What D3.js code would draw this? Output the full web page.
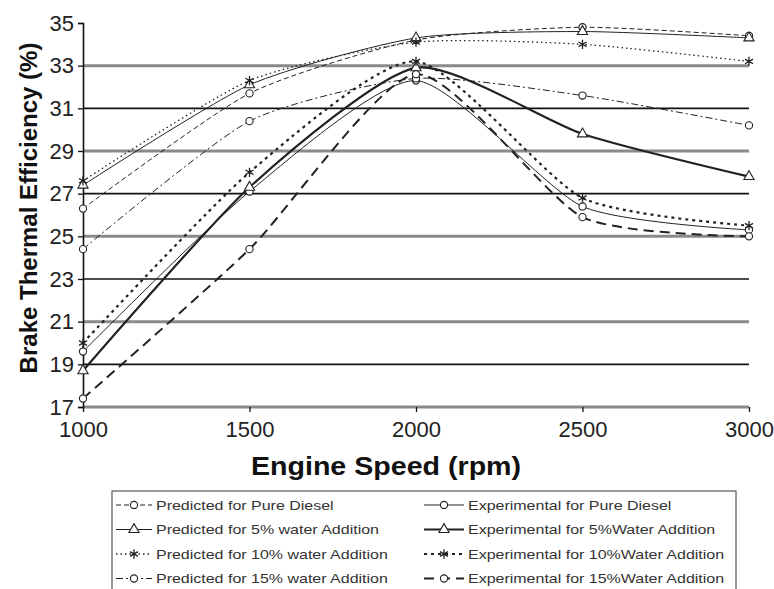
<!DOCTYPE html>
<html lang="en">
<head>
    <meta charset="UTF-8">
    <title>Brake Thermal Efficiency vs Engine Speed</title>
    <script src="https://d3js.org/d3.v7.min.js"></script>
    <style>
        body { margin: 0; background: #fff; }
        svg { display: block; font-family: Arial, "Liberation Sans", sans-serif; }
        .tick-label { font-size: 22px; fill: #222; }
        .axis-title { font-weight: bold; fill: #111; }
        .legend-text { font-size: 13px; fill: #333; }
    </style>
</head>
<body>
<svg id="chart" width="774" height="589"></svg>
<script>
    // Engine speeds (x values)
    const speeds = [1000, 1500, 2000, 2500, 3000];
    const xTicks = [1000, 1500, 2000, 2500, 3000];
    const yTicks = [17, 19, 21, 23, 25, 27, 29, 31, 33, 35];

    // Brake thermal efficiency (%)
    const predDiesel = [26.3, 31.7, 34.2, 34.8, 34.4];
    const pred5      = [27.4, 32.1, 34.3, 34.6, 34.3];
    const pred10     = [27.6, 32.3, 34.1, 34.0, 33.2];
    const pred15     = [24.4, 30.4, 32.4, 31.6, 30.2];
    const expDiesel  = [19.6, 27.1, 32.3, 26.4, 25.3];
    const exp5       = [18.7, 27.3, 32.9, 29.8, 27.8];
    const exp10      = [20.0, 28.0, 33.2, 26.8, 25.5];
    const exp15      = [17.4, 24.4, 32.6, 25.9, 25.0];

    const seriesNames = [
        "Predicted for Pure Diesel", "Experimental for Pure Diesel",
        "Predicted for 5% water Addition", "Experimental for 5%Water Addition",
        "Predicted for 10% water Addition", "Experimental for 10%Water Addition",
        "Predicted for 15% water Addition", "Experimental for 15%Water Addition"
    ];

    // line / marker styles for each series (same order as names)
    const series = [
        { values: predDiesel, dash: "5,3",       width: 1,   marker: "circle" },
        { values: expDiesel,  dash: null,        width: 1,   marker: "circle" },
        { values: pred5,      dash: null,        width: 1,   marker: "triangle" },
        { values: exp5,       dash: null,        width: 2.2, marker: "triangle" },
        { values: pred10,     dash: "1.5,3",     width: 1.3, marker: "star" },
        { values: exp10,      dash: "3,4",       width: 2.2, marker: "star" },
        { values: pred15,     dash: "7,3,2,3",   width: 1,   marker: "circle" },
        { values: exp15,      dash: "10,6",      width: 2,   marker: "circle" }
    ].map((s, i) => ({ ...s, name: seriesNames[i] }));

    const svg = d3.select("#chart");
    const margin = { left: 83, right: 25, top: 23, bottom: 182 };
    const W = 774, H = 589;

    const x = d3.scaleLinear().domain([1000, 3000]).range([margin.left, W - margin.right]);
    const y = d3.scaleLinear().domain([17, 35]).range([H - margin.bottom, margin.top]);

    // horizontal grid lines (alternating grey / black)
    svg.append("g")
        .selectAll("line")
        .data(yTicks.filter(v => v < 35))
        .join("line")
        .attr("x1", x(1000))
        .attr("x2", x(3000))
        .attr("y1", d => y(d))
        .attr("y2", d => y(d))
        .attr("stroke", d => (d - 17) % 4 === 0 ? "#8a8a8a" : "#111")
        .attr("stroke-width", d => (d - 17) % 4 === 0 ? 3 : 1.6);

    // y axis
    const yAxis = svg.append("g")
        .attr("transform", `translate(${x(1000)},0)`)
        .call(d3.axisLeft(y).tickValues(yTicks).tickSize(5).tickPadding(4));
    yAxis.select(".domain").attr("stroke", "#111").attr("stroke-width", 1.6);
    yAxis.selectAll(".tick line").attr("stroke", "#111").attr("stroke-width", 1.3);
    yAxis.selectAll(".tick text").attr("class", "tick-label").attr("font-size", null).attr("font-family", null);

    // x axis
    const xAxis = svg.append("g")
        .attr("transform", `translate(0,${y(17)})`)
        .call(d3.axisBottom(x).tickValues(xTicks).tickFormat(d3.format("d")).tickSize(5).tickPadding(9));
    xAxis.select(".domain").remove();
    xAxis.selectAll(".tick line").attr("stroke", "#111").attr("stroke-width", 1.3);
    xAxis.selectAll(".tick text")
        .attr("class", "tick-label").attr("font-size", null).attr("font-family", null);

    // axis titles
    svg.append("text")
        .attr("class", "axis-title")
        .attr("font-size", 26)
        .attr("transform", "translate(386,475) scale(1.1,1)")
        .attr("text-anchor", "middle")
        .text("Engine Speed (rpm)");

    svg.append("text")
        .attr("class", "axis-title")
        .attr("font-size", 24)
        .attr("transform", "translate(37,208) rotate(-90)")
        .attr("text-anchor", "middle")
        .text("Brake Thermal Efficiency (%)");

    // marker drawing helper
    function drawMarker(g, type, cx, cy) {
        if (type === "circle") {
            g.append("circle").attr("cx", cx).attr("cy", cy).attr("r", 3.6)
                .attr("fill", "#fff").attr("stroke", "#222").attr("stroke-width", 1.1);
        } else if (type === "triangle") {
            const tri = d3.symbol().type(d3.symbolTriangle).size(45);
            g.append("path").attr("d", tri()).attr("transform", `translate(${cx},${cy})`)
                .attr("fill", "#fff").attr("stroke", "#222").attr("stroke-width", 1.1);
        } else {
            const star = d3.symbol().type(d3.symbolAsterisk).size(60);
            g.append("path").attr("d", star()).attr("transform", `translate(${cx},${cy})`)
                .attr("fill", "none").attr("stroke", "#222").attr("stroke-width", 1.3);
        }
    }

    const line = d3.line()
        .x((d, i) => x(speeds[i]))
        .y(d => y(d))
        .curve(d3.curveCardinal.tension(0.35));

    const plot = svg.append("g");
    series.forEach(s => {
        plot.append("path")
            .attr("d", line(s.values))
            .attr("fill", "none")
            .attr("stroke", "#222")
            .attr("stroke-width", s.width)
            .attr("stroke-dasharray", s.dash);
    });
    series.forEach(s => {
        const g = plot.append("g");
        s.values.forEach((v, i) => drawMarker(g, s.marker, x(speeds[i]), y(v)));
    });

    // legend
    const legend = svg.append("g");
    legend.append("rect")
        .attr("x", 112).attr("y", 491)
        .attr("width", 624).attr("height", 110)
        .attr("fill", "#fff").attr("stroke", "#555").attr("stroke-width", 1.2);

    series.forEach((s, i) => {
        const col = i % 2, row = Math.floor(i / 2);
        const lx = col === 0 ? 116 : 424;
        const sw = col === 0 ? 36 : 40;
        const ly = 505 + row * 24.5;
        const g = legend.append("g");
        g.append("line")
            .attr("x1", lx).attr("x2", lx + sw)
            .attr("y1", ly).attr("y2", ly)
            .attr("stroke", "#222")
            .attr("stroke-width", s.width)
            .attr("stroke-dasharray", s.dash);
        drawMarker(g, s.marker, lx + sw / 2, ly);
        g.append("text")
            .attr("class", "legend-text")
            .attr("transform", `translate(${lx + sw + 4},${ly + 4.5}) scale(1.23,1)`)
            .text(s.name);
    });
</script>
</body>
</html>
